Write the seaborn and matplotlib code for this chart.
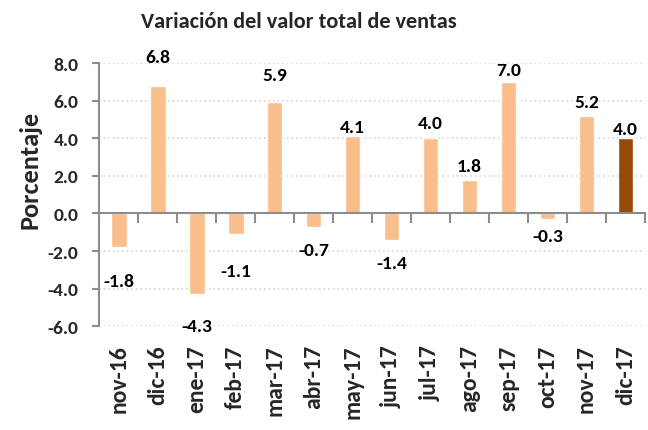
import matplotlib
matplotlib.use("Agg")
import matplotlib.pyplot as plt
import seaborn as sns
import pandas as pd
import numpy as np

categories = ["nov-16", "dic-16", "ene-17", "feb-17", "mar-17", "abr-17", "may-17",
              "jun-17", "jul-17", "ago-17", "sep-17", "oct-17", "nov-17", "dic-17"]
values = [-1.8, 6.8, -4.3, -1.1, 5.9, -0.7, 4.1, -1.4, 4.0, 1.8, 7.0, -0.3, 5.2, 4.0]
label_y = [-3.6, 8.33, -5.96, -3.08, 7.34, -1.93, 4.62, -2.64, 4.83, 2.53, 7.65, -1.19, 5.92, 4.51]
yticks = [-6.0, -4.0, -2.0, 0.0, 2.0, 4.0, 6.0, 8.0]

light = "#F9BE8C"
dark = "#984807"
palette = [light] * (len(categories) - 1) + [dark]

sns.set_theme(style="white")
FONT = ["Carlito", "DejaVu Sans"]
plt.rcParams["font.family"] = FONT
plt.rcParams["font.weight"] = "bold"

df = pd.DataFrame({"mes": categories, "valor": values})

fig = plt.figure(figsize=(6.48, 4.31), dpi=100)
ax = fig.add_axes([99.3 / 648, 1 - 327.3 / 431, (645 - 99.3) / 648, (327.3 - 64) / 431])

sns.barplot(data=df, x="mes", y="valor", hue="mes", palette=palette, legend=False,
            width=0.4, ax=ax, saturation=1)

ax.set_xlim(-0.5, len(categories) - 0.5)
ax.set_ylim(-6, 8)
ax.set_yticks(yticks)
ax.set_yticklabels([f"{v:.1f}" for v in yticks], fontsize=14, fontweight="bold")
for v in yticks:
    if v != 0:
        ax.axhline(v, color="#cfcfcf", linestyle=(0, (1, 2)), linewidth=1.1, zorder=0)

for s in ["top", "right"]:
    ax.spines[s].set_visible(False)
ax.spines["left"].set_color("#8c8c8c")
ax.spines["left"].set_linewidth(1.5)
ax.spines["bottom"].set_position(("data", 0))
ax.spines["bottom"].set_color("#8c8c8c")
ax.spines["bottom"].set_linewidth(1.5)
ax.tick_params(axis="y", direction="out", length=5, width=1.5, color="#8c8c8c", pad=10, left=True)

# boundary ticks on zero line
ax.set_xticks(np.arange(-0.5, len(categories), 1.0), minor=True)
ax.set_xticks([])
ax.tick_params(axis="x", which="minor", direction="out", length=7, width=1.5, color="#8c8c8c", bottom=True)
ax.set_xlabel("")
ax.set_ylabel("")

sec = ax.secondary_xaxis(0.0)
sec.set_xticks(range(len(categories)))
sec.set_xticklabels(categories, rotation=90, fontsize=17, fontweight="bold")
sec.tick_params(length=0, pad=13)
sec.spines["bottom"].set_visible(False)

for i, (v, ly) in enumerate(zip(values, label_y)):
    ax.text(i, ly, f"{v:.1f}", ha="center", va="center", fontsize=14, fontweight="bold", color="black")

fig.text(30 / 648, 1 - 170 / 431, "Porcentaje", rotation=90, ha="center", va="center",
         fontsize=19, fontweight="bold")
fig.text(299 / 648, 1 - 22 / 431, "Variación del valor total de ventas", ha="center", va="center",
         fontsize=16, fontweight="bold")

fig.savefig("out.png", dpi=100)
